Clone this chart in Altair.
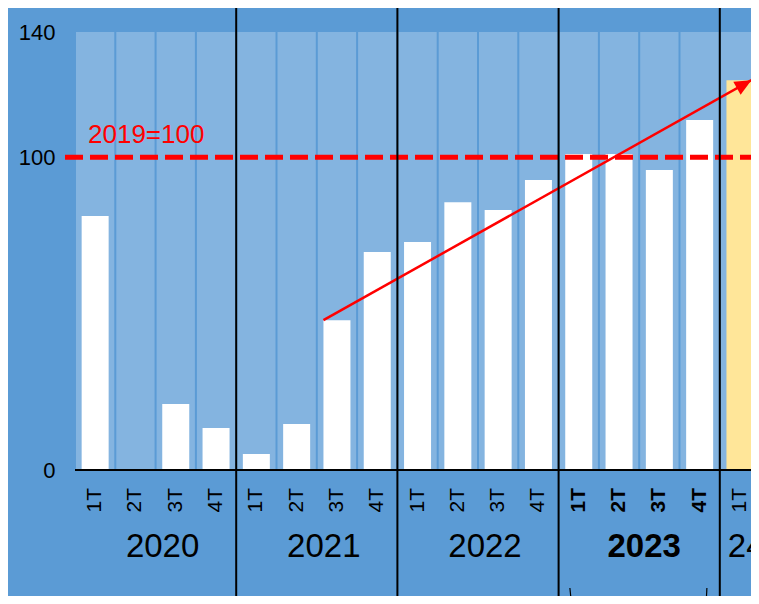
import math
import altair as alt
import pandas as pd

# ---------------- data ----------------
quarters = ["1T", "2T", "3T", "4T", "1T", "2T", "3T", "4T", "1T", "2T", "3T", "4T",
            "1T", "2T", "3T", "4T", "1T"]
years = ["2020"] * 4 + ["2021"] * 4 + ["2022"] * 4 + ["2023"] * 4 + ["2024"]
values = [81.2, 0.0, 21.1, 13.4, 5.1, 14.7, 47.9, 69.7, 72.9, 85.6, 83.1, 92.7,
          101.0, 101.0, 95.9, 111.9, 124.6]
year_names = ["2020", "2021", "2022", "2023", "2024"]
year_labels = ["2020", "2021", "2022", "2023", "24"]
bold_year = "2023"
highlight_year = "2024"
base_value = 100
base_label = "2019=100"
y_ticks = [0, 100, 140]
arrow_from = 6
arrow_to = 16

# ---------------- layout constants ----------------
FONT = "Liberation Sans"
BAND = 40.3
N = len(values)
W = 676            # visible plot width (page is cut at the right edge)
H = 438
YMAX = 140
HALF = 0.335
OUTER = "#5b9bd5"
INNER = "#84b4e0"
RED = "#ff0000"

df = pd.DataFrame({"i": list(range(N)), "q": quarters, "year": years, "value": values})
df["x0"] = df["i"] - HALF
df["x1"] = df["i"] + HALF

xs = alt.Scale(domain=[-0.5, -0.5 + W / BAND], nice=False, zero=False)
ys = alt.Scale(domain=[0, YMAX], nice=False)
yaxis = alt.Axis(values=y_ticks, grid=False, ticks=False, domain=False,
                 labelFontSize=22, labelColor="black", labelFont=FONT,
                 labelPadding=20, title=None)


def X(field, **kw):
    return alt.X(field, scale=xs, axis=None, **kw)


def Y(field, **kw):
    return alt.Y(field, scale=ys, axis=yaxis, **kw)


# band separators
sep_df = pd.DataFrame({"b": [k - 0.5 for k in range(N + 1)]})
separators = alt.Chart(sep_df).mark_rule(color=OUTER, strokeWidth=2).encode(x=X("b:Q"))

# bars
bars = alt.Chart(df).mark_rect().encode(
    x=X("x0:Q"), x2="x1:Q",
    y=Y("value:Q"),
    y2=alt.datum(0),
    color=alt.condition(alt.datum.year == highlight_year, alt.value("#ffe699"), alt.value("white")),
)

# base line 2019 = 100
base_rule = alt.Chart(pd.DataFrame({"v": [base_value]})).mark_rule(
    color=RED, strokeWidth=5, strokeDash=[18, 7]
).encode(y=Y("v:Q"), x=alt.value(-10), x2=alt.value(W + 5))
base_text = alt.Chart(pd.DataFrame({"v": [base_value], "t": [base_label]})).mark_text(
    color=RED, fontSize=26, font=FONT, align="left", baseline="alphabetic", dy=-14
).encode(y=Y("v:Q"), x=alt.value(13), text="t:N")

# arrow
xa0 = arrow_from - HALF
xa1 = arrow_to + HALF - 0.05
ya0 = values[arrow_from]
ya1 = values[arrow_to]
arrow_df = pd.DataFrame({"xs": [xa0], "ys": [ya0], "xe": [xa1], "ye": [ya1]})
px0 = (xa0 + 0.5) * BAND
px1 = (xa1 + 0.5) * BAND
py0 = H - ya0 * H / YMAX
py1 = H - ya1 * H / YMAX
ang = math.degrees(math.atan2(py1 - py0, px1 - px0)) % 360
arrow_line = alt.Chart(arrow_df).mark_rule(color=RED, strokeWidth=2.5).encode(
    x=X("xs:Q"), y=Y("ys:Q"), x2="xe:Q", y2="ye:Q"
)
arrow_head = alt.Chart(arrow_df).mark_point(
    shape="M0,0L-1,-0.45L-1,0.45Z", filled=True, color=RED, opacity=1,
    size=1100, angle=ang, strokeWidth=0
).encode(x=X("xe:Q"), y=Y("ye:Q"))

# year separators
bounds = [k - 0.5 for k in range(1, N) if years[k] != years[k - 1]]
ysep = alt.Chart(pd.DataFrame({"b": bounds})).mark_rule(color="black", strokeWidth=2).encode(
    x=X("b:Q"), y=alt.value(-27), y2=alt.value(H + 140)
)

# small bracket ends below the highlighted year group
bidx = [k for k in range(N) if years[k] == bold_year]
brk_df = pd.DataFrame({"xa": [min(bidx) - 0.22, max(bidx) + 0.18],
                       "xb": [min(bidx) - 0.18, max(bidx) + 0.16]})
brackets = alt.Chart(brk_df).mark_rule(color="black", strokeWidth=1.2).encode(
    x=X("xa:Q"), x2="xb:Q", y=alt.value(H + 118), y2=alt.value(H + 134)
)

# x axis line
xaxis_line = alt.Chart(pd.DataFrame({"v": [0]})).mark_rule(color="black", strokeWidth=2).encode(
    y=Y("v:Q"), x=alt.value(0), x2=alt.value(W)
)

# quarter labels (normal and bold)
is_bold = alt.datum.year == bold_year
q_base = alt.Chart(df).encode(x=X("i:Q"), y=alt.value(H + 18), text="q:N")
qlabels = q_base.mark_text(
    angle=270, align="right", baseline="middle", fontSize=21, font=FONT, color="black"
).transform_filter(~is_bold)
qlabels_b = q_base.mark_text(
    angle=270, align="right", baseline="middle", fontSize=21, font=FONT, color="black",
    fontWeight="bold"
).transform_filter(is_bold)

# year labels
yl_rows = []
for name, lab in zip(year_names, year_labels):
    idx = [k for k in range(N) if years[k] == name]
    yl_rows.append({"year": name, "label": lab, "center": sum(idx) / len(idx),
                    "left": min(idx) - 0.5, "full": len(idx) == 4})
yl_df = pd.DataFrame(yl_rows)
full_df = yl_df[yl_df["full"]]
y_base = alt.Chart(full_df).encode(x=X("center:Q"), y=alt.value(H + 77), text="label:N")
ylabels_full = y_base.mark_text(
    fontSize=33, font=FONT, baseline="middle", align="center", dx=7, color="black"
).transform_filter(~is_bold)
ylabels_bold = y_base.mark_text(
    fontSize=33, font=FONT, baseline="middle", align="center", dx=5, color="black",
    fontWeight="bold"
).transform_filter(is_bold)
ylabels_part = alt.Chart(yl_df[~yl_df["full"]]).mark_text(
    fontSize=33, font=FONT, baseline="middle", align="left", dx=8, color="black"
).encode(x=X("left:Q"), y=alt.value(H + 77), text="label:N")

chart = alt.layer(
    separators, bars, base_rule, base_text, arrow_line, arrow_head,
    ysep, brackets, xaxis_line, qlabels, qlabels_b, ylabels_full, ylabels_bold, ylabels_part
).properties(
    width=W, height=H,
    autosize=alt.AutoSizeParams(type="none"),
    padding={"left": 67, "top": 24, "right": 0, "bottom": 126},
    background=OUTER,
).configure_view(fill=INNER, stroke=None)

chart.save("out.html", embed_options={"renderer": "svg", "actions": False})
